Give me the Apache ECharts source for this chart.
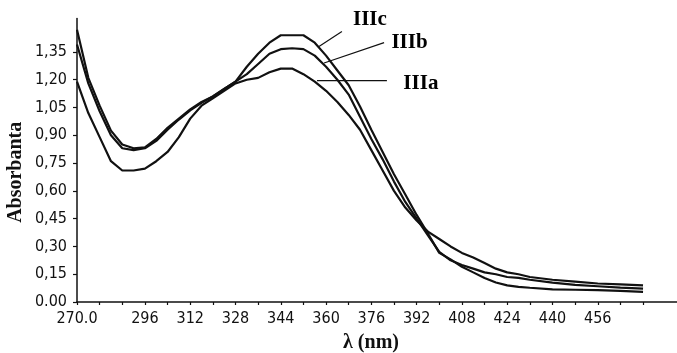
<!DOCTYPE html>
<html>
<head>
<meta charset="utf-8">
<script src="https://cdn.jsdelivr.net/npm/echarts@6/dist/echarts.min.js"></script>
<style>
html,body{margin:0;padding:0;background:#fff;}
#chart{width:677px;height:353px;}
</style>
</head>
<body>
<div id="chart"></div>
<script>
// Wavelength (nm) sample points
const wavelengths = [272,276,280,284,288,292,296,300,304,308,312,316,320,324,328,332,336,340,344,348,352,356,360,364,368,372,376,380,384,388,392,396,400,404,408,412,416,420,424,428,432,440,448,456,464,472];
// Absorbance values
const iiiaValues = [1.19,1.02,0.89,0.76,0.71,0.71,0.72,0.76,0.81,0.89,0.99,1.06,1.10,1.14,1.18,1.20,1.21,1.24,1.26,1.26,1.23,1.19,1.14,1.08,1.01,0.93,0.82,0.71,0.60,0.51,0.44,0.38,0.34,0.30,0.265,0.24,0.21,0.18,0.16,0.15,0.135,0.12,0.11,0.10,0.095,0.09];
const iiibValues = [1.39,1.18,1.03,0.90,0.83,0.82,0.83,0.87,0.93,0.985,1.035,1.075,1.11,1.15,1.19,1.23,1.285,1.34,1.365,1.37,1.365,1.33,1.27,1.20,1.12,1.00,0.88,0.77,0.65,0.54,0.45,0.36,0.27,0.225,0.20,0.18,0.16,0.15,0.135,0.13,0.12,0.105,0.092,0.085,0.078,0.072];
const iiicValues = [1.47,1.21,1.06,0.925,0.85,0.83,0.835,0.88,0.94,0.99,1.04,1.08,1.11,1.15,1.19,1.27,1.34,1.40,1.44,1.44,1.44,1.40,1.33,1.25,1.17,1.055,0.93,0.81,0.69,0.58,0.47,0.37,0.265,0.23,0.19,0.16,0.13,0.105,0.09,0.082,0.077,0.068,0.066,0.064,0.06,0.055];
const seriesNames = ['IIIa','IIIb','IIIc'];

// Axis ticks and labels
const xTickValues = [272,280,288,296,304,312,320,328,336,344,352,360,368,376,384,392,400,408,416,424,432,440,448,456,464,472];
const xLabelValues = [272,296,312,328,344,360,376,392,408,424,440,456];
const xLabelTexts = ['270.0','296','312','328','344','360','376','392','408','424','440','456'];
const yLabelValues = [0,0.15,0.30,0.45,0.60,0.75,0.90,1.05,1.20,1.35];
const yLabelTexts = ['0.00','0,15','0,30','0,45','0,60','0,75','0,90','1,05','1,20','1,35'];

// Curve annotations (data coordinates)
const leaderStart = [[356.8,1.195],[359.3,1.29],[357.5,1.38]];
const leaderEnd = [[381.5,1.195],[380.5,1.40],[365.6,1.46]];
const labelAt = [[393.5,1.18],[389.5,1.40],[375.5,1.525]];

const curves = [iiiaValues, iiibValues, iiicValues];
const series = [];
curves.forEach(function (vals, i) {
  series.push({
    name: seriesNames[i], type: 'line', symbol: 'none', smooth: false,
    data: wavelengths.map(function (w, j) { return [w, vals[j]]; }),
    lineStyle: {color: '#111', width: 2.2},
    z: 3
  });
  series.push({
    type: 'line', symbol: 'none', silent: true,
    data: [leaderStart[i], leaderEnd[i]],
    lineStyle: {color: '#111', width: 1.2},
    z: 2
  });
});
series.push({
  type: 'scatter', symbolSize: 0, silent: true, clip: false,
  itemStyle: {opacity: 1, color: '#000'},
  data: labelAt.map(function (p, i) { return {value: p, name: seriesNames[i]}; }),
  label: {
    show: true, position: 'inside', formatter: '{b}', opacity: 1,
    color: '#000', fontFamily: 'Liberation Serif', fontWeight: 'bold', fontSize: 21
  },
  z: 5
});

const chart = echarts.init(document.getElementById('chart'), null, {renderer: 'canvas'});
chart.setOption({
  animation: false,
  backgroundColor: '#fff',
  grid: {left: 77, right: 0, top: 18.6, bottom: 51, containLabel: false, outerBoundsMode: 'none'},
  xAxis: {
    type: 'value', min: 272, max: 484,
    name: 'λ (nm)', nameLocation: 'middle', nameGap: 31, nameMoveOverlap: false,
    nameTextStyle: {color: '#111', fontFamily: 'Liberation Serif', fontWeight: 'bold', fontSize: 20, padding: [0, 12, 0, 0]},
    axisLine: {show: true, onZero: false, lineStyle: {color: '#111', width: 1.5}},
    axisTick: {show: true, customValues: xTickValues, length: 3, lineStyle: {color: '#111', width: 1.2}},
    axisLabel: {
      customValues: xLabelValues, margin: 9,
      color: '#111', fontFamily: '"Liberation Sans Narrow", "DejaVu Sans Condensed", "Liberation Sans"', fontSize: 16,
      formatter: function (v) { const k = xLabelValues.indexOf(v); return k >= 0 ? xLabelTexts[k] : ''; }
    },
    splitLine: {show: false}
  },
  yAxis: {
    type: 'value', min: 0, max: 1.53,
    name: 'Absorbanta', nameLocation: 'middle', nameGap: 51, nameRotate: 90, nameMoveOverlap: false,
    nameTextStyle: {color: '#111', fontFamily: 'Liberation Serif', fontWeight: 'bold', fontSize: 20, padding: [0, 24, 0, 0]},
    axisLine: {show: true, onZero: false, lineStyle: {color: '#111', width: 1.5}},
    axisTick: {show: true, customValues: yLabelValues, length: 4, lineStyle: {color: '#111', width: 1.2}},
    axisLabel: {
      customValues: yLabelValues, margin: 10,
      color: '#111', fontFamily: '"Liberation Sans Narrow", "DejaVu Sans Condensed", "Liberation Sans"', fontSize: 16,
      formatter: function (v) {
        let k = -1;
        yLabelValues.forEach(function (y, i) { if (Math.abs(y - v) < 1e-6) k = i; });
        return k >= 0 ? yLabelTexts[k] : '';
      }
    },
    splitLine: {show: false}
  },
  series: series
});
</script>
</body>
</html>
